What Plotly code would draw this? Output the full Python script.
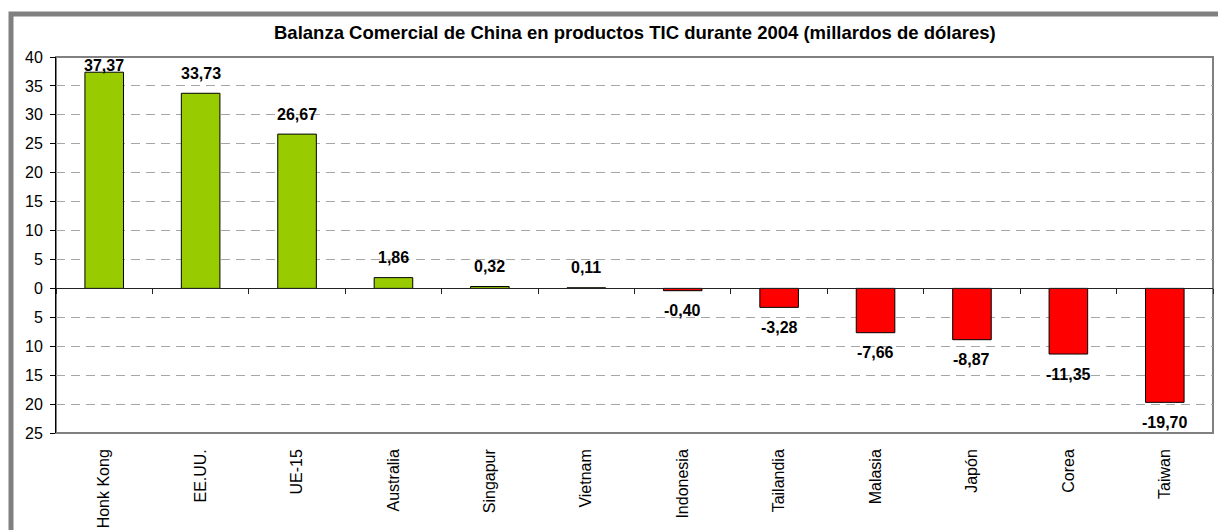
import plotly.graph_objects as go

categories = ["Honk Kong", "EE.UU.", "UE-15", "Australia", "Singapur", "Vietnam",
              "Indonesia", "Tailandia", "Malasia", "Japón", "Corea", "Taiwan"]
values = [37.37, 33.73, 26.67, 1.86, 0.32, 0.11, -0.40, -3.28, -7.66, -8.87, -11.35, -19.70]
y_ticks = [-25, -20, -15, -10, -5, 0, 5, 10, 15, 20, 25, 30, 35, 40]
y_tick_labels = ["25", "20", "15", "10", "5", "0", "5", "10", "15", "20", "25", "30", "35", "40"]
title_text = "Balanza Comercial de China en productos TIC durante 2004 (millardos de dólares)"

# page body has an 8px margin, so the figure is offset by (8, 8)
OFF = 8
W, H = 1226 - OFF, 530 - OFF
ML, MR, MT, MB = 56 - OFF, 13, 57 - OFF, 97
YMIN, YMAX = -25, 40
plot_h = H - MT - MB
plot_w = W - ML - MR
px_per_unit = plot_h / (YMAX - YMIN)

FONT = "Liberation Sans, Arial"
colors = ["#99CC00" if v >= 0 else "#FF0000" for v in values]

fig = go.Figure()
fig.add_trace(go.Bar(
    x=categories, y=values, width=0.40,
    marker=dict(color=colors, line=dict(color="#000000", width=1)),
    hoverinfo="skip", xaxis="x", yaxis="y",
))
# invisible trace for bottom category labels axis
fig.add_trace(go.Scatter(
    x=categories, y=[0] * len(categories), mode="markers",
    marker=dict(opacity=0), hoverinfo="skip", xaxis="x2", yaxis="y", showlegend=False,
))

annotations = []
for c, v in zip(categories, values):
    txt = f"{v:.2f}".replace(".", ",")
    if v >= 0:
        room = (YMAX - v) * px_per_unit - 9
        shift = min(20, room)
    else:
        shift = -20
    annotations.append(dict(
        x=c, y=v, xref="x", yref="y", text=txt, showarrow=False, yshift=shift,
        font=dict(family=FONT, size=16, color="#000000", weight="bold"),
    ))

annotations.append(dict(
    x=0.5, xref="paper", y=(H - (32 - OFF) - MB) / plot_h, yref="paper", text=f"<b>{title_text}</b>",
    showarrow=False, font=dict(family=FONT, size=18.5, color="#000000"),
    xanchor="center", yanchor="middle",
))

zero_pos = (0 - YMIN) / (YMAX - YMIN)

fig.update_layout(
    width=W, height=H,
    margin=dict(l=ML, r=MR, t=MT, b=MB, pad=0, autoexpand=False),
    paper_bgcolor="#FFFFFF", plot_bgcolor="#FFFFFF",
    showlegend=False,
    font=dict(family=FONT, size=16, color="#000000"),
    xaxis=dict(
        type="category", categoryorder="array", categoryarray=categories,
        range=[-0.5, len(categories) - 0.5],
        anchor="free", position=zero_pos, automargin=False,
        showline=True, linecolor="#222222", linewidth=1,
        ticks="outside", ticklen=5, tickcolor="#222222", tickson="boundaries",
        showticklabels=False, showgrid=False, zeroline=False,
    ),
    xaxis2=dict(
        type="category", categoryorder="array", categoryarray=categories,
        range=[-0.5, len(categories) - 0.5],
        overlaying="x", anchor="y", side="bottom", automargin=False,
        showline=False, ticks="", showgrid=False, zeroline=False,
        tickangle=-90, tickfont=dict(family=FONT, size=16, color="#000000"),
        ticklabelstandoff=12,
    ),
    yaxis=dict(
        range=[YMIN, YMAX], tickvals=y_ticks, ticktext=y_tick_labels, automargin=False,
        showline=True, linecolor="#000000", linewidth=1,
        ticks="outside", ticklen=5, tickcolor="#000000",
        showgrid=True, gridcolor="#A6A6A6", gridwidth=1, griddash="9px,6px",
        zeroline=False, tickfont=dict(family=FONT, size=16, color="#000000"),
        ticklabelstandoff=4,
    ),
    annotations=annotations,
    shapes=[
        dict(type="rect", xref="paper", yref="paper", x0=0, x1=1, y0=0, y1=1,
             line=dict(color="#808080", width=2), layer="below"),
        dict(type="rect", xref="paper", yref="paper",
             x0=(11 - OFF - ML) / plot_w, x1=(W + 30 - ML) / plot_w,
             y0=-0.6, y1=(H - (14 - OFF) - MB) / plot_h,
             line=dict(color="#808080", width=5), layer="above"),
    ],
)

fig.write_html("out.html")
